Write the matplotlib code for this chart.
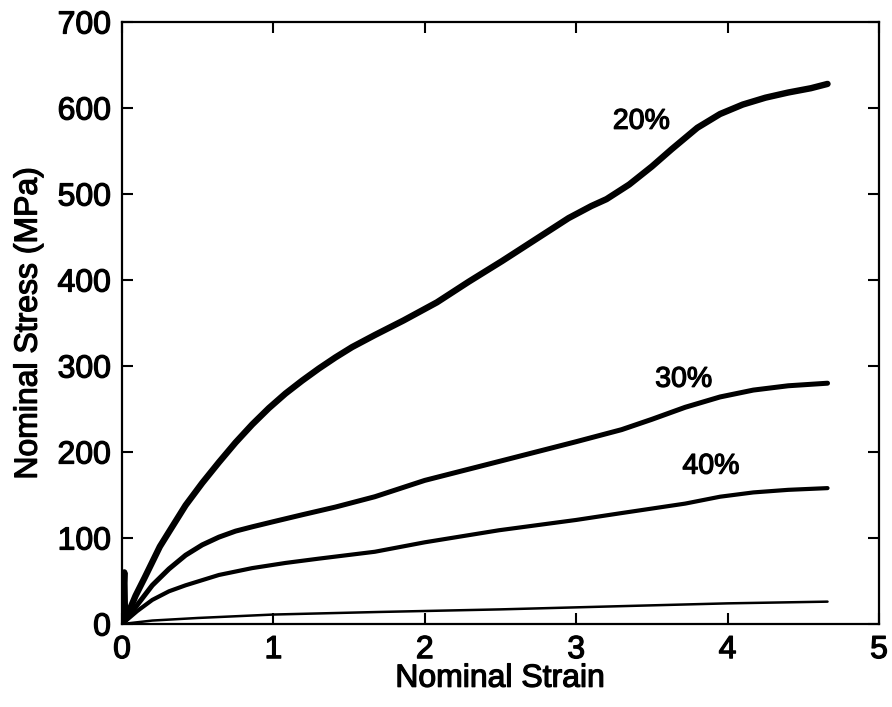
import matplotlib
matplotlib.use("Agg")
import matplotlib.pyplot as plt
import matplotlib.patheffects as pe

plt.rcParams['font.family'] = ['Liberation Sans', 'DejaVu Sans']

# Data
strain_20 = [0, 0.015, 0.02, 0.03, 0.09, 0.15, 0.20, 0.25, 0.31, 0.42, 0.53, 0.64, 0.75, 0.86, 0.97, 1.08, 1.19, 1.30,
             1.41, 1.52, 1.67, 1.86, 2.08, 2.29, 2.51, 2.73, 2.95, 3.10, 3.20, 3.35, 3.50, 3.63, 3.80, 3.95,
             4.10, 4.25, 4.40, 4.55, 4.66]
stress_20 = [0, 60, 5, 8, 33, 54, 72, 90, 107, 138, 164, 188, 211, 232, 251, 268, 283, 297,
             310, 322, 336, 353, 374, 398, 422, 447, 472, 486, 494, 511, 532, 552, 577, 593,
             604, 612, 618, 623, 628]

strain_30 = [0, 0.10, 0.20, 0.31, 0.42, 0.53, 0.64, 0.75, 0.86, 1.00, 1.19, 1.41, 1.67, 2.00, 2.49, 3.00,
             3.30, 3.50, 3.72, 3.95, 4.17, 4.40, 4.66]
stress_30 = [0, 22, 45, 64, 80, 92, 101, 108, 113, 119, 127, 136, 148, 167, 189, 212,
             226, 238, 252, 264, 272, 277, 280]

strain_40 = [0, 0.10, 0.20, 0.31, 0.42, 0.64, 0.86, 1.08, 1.30, 1.67, 2.00, 2.49, 3.00, 3.30, 3.72, 3.95,
             4.17, 4.40, 4.66]
stress_40 = [0, 15, 28, 38, 45, 57, 65, 71, 76, 84, 95, 109, 121, 129, 140, 148,
             153, 156, 158]

strain_base = [0, 0.20, 0.50, 1.00, 1.70, 2.50, 3.35, 4.00, 4.66]
stress_base = [0, 4, 7, 11, 14, 17, 21, 24, 26]

labels = ["20%", "30%", "40%"]
label_x = [3.43, 3.71, 3.89]
label_y = [584, 284, 183]

xticks = [0, 1, 2, 3, 4, 5]
yticks = [0, 100, 200, 300, 400, 500, 600, 700]

fig = plt.figure(figsize=(8.92, 7.07), dpi=100)
ax = fig.add_axes([122/892, 1 - 624/707, (879-122)/892, (624-22)/707])

thick = [pe.withStroke(linewidth=0.9, foreground='black')]

ax.plot(strain_20, stress_20, color='black', lw=4.6, solid_capstyle='round', solid_joinstyle='round')
ax.plot(strain_30, stress_30, color='black', lw=3.6, solid_capstyle='round', solid_joinstyle='round')
ax.plot(strain_40, stress_40, color='black', lw=3.0, solid_capstyle='round', solid_joinstyle='round')
ax.plot(strain_base, stress_base, color='black', lw=1.8, solid_capstyle='round', solid_joinstyle='round')

for t, x, y in zip(labels, label_x, label_y):
    ax.text(x, y, t, fontsize=20.5, ha='center', va='center', color='black', path_effects=thick)

ax.set_xlim(0, 5)
ax.set_ylim(0, 700)
ax.set_xticks(xticks)
ax.set_yticks(yticks)
ax.tick_params(direction='in', top=True, right=True, length=8, width=1.5,
               labelsize=23, pad=8)
for lab in ax.get_xticklabels() + ax.get_yticklabels():
    lab.set_path_effects(thick)
for s in ax.spines.values():
    s.set_linewidth(1.6)

ax.set_xlabel("Nominal Strain", fontsize=23, labelpad=-1, path_effects=thick)
ax.set_ylabel("Nominal Stress (MPa)", fontsize=23, labelpad=10, path_effects=thick)

fig.savefig("out.png", dpi=100, facecolor='white')
